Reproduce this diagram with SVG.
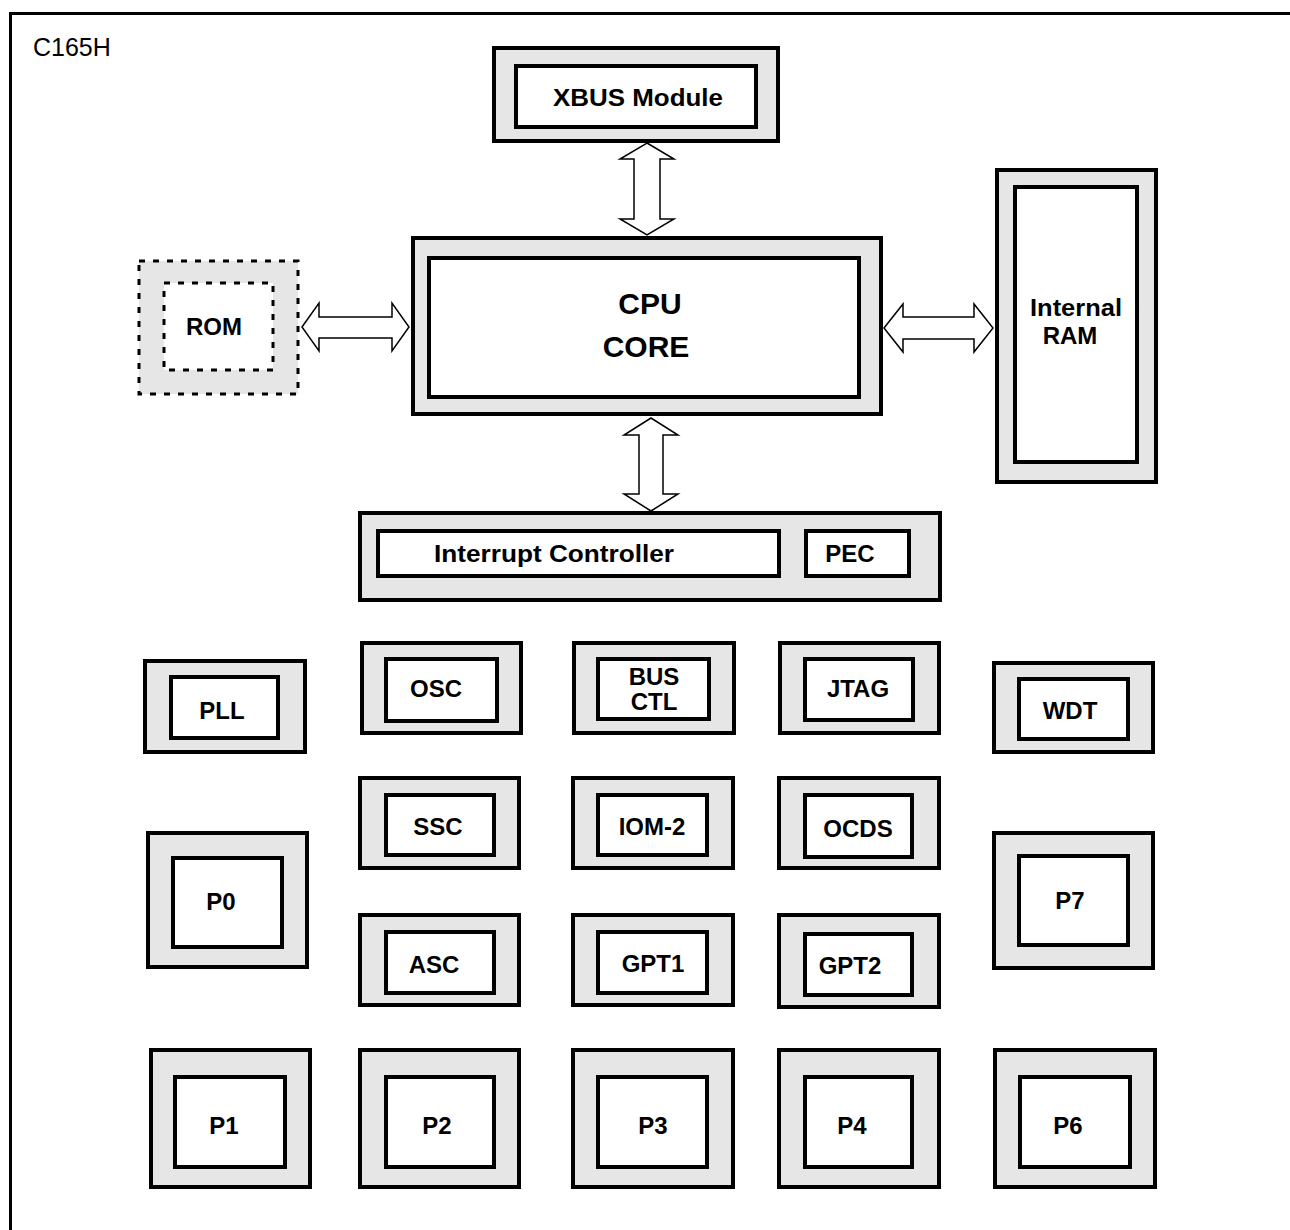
<svg xmlns="http://www.w3.org/2000/svg" width="1290" height="1230" viewBox="0 0 1290 1230">
<style>
.outer{fill:#e6e6e6;stroke:#000;stroke-width:4}
.inner{fill:#fff;stroke:#000;stroke-width:4}
.dout{fill:#e6e6e6;stroke:#000;stroke-width:3;stroke-dasharray:6 8}
.din{fill:#fff;stroke:#000;stroke-width:3;stroke-dasharray:6 8}
.lbl{font-family:"Liberation Sans",Arial,sans-serif;font-weight:bold;font-size:24px;text-anchor:middle;fill:#000}
.big{font-size:30px}
.title{font-family:"Liberation Sans",Arial,sans-serif;font-size:25px;fill:#000}
.arrow{fill:#fff;stroke:#000;stroke-width:1.5;stroke-linejoin:miter}
</style>
<rect x="0" y="0" width="1290" height="1230" fill="#fff"/>
<path d="M10.5,1230 V13.5 H1290" fill="none" stroke="#000" stroke-width="3"/>
<text class="title" x="33" y="56">C165H</text>

<g id="xbus"><rect class="outer" x="494" y="48" width="284" height="93"/><rect class="inner" x="516" y="66" width="240" height="61"/><text class="lbl" x="638" y="106" textLength="170" lengthAdjust="spacingAndGlyphs">XBUS Module</text></g>
<g id="cpu"><rect class="outer" x="413" y="238" width="468" height="176"/><rect class="inner" x="429" y="258" width="430" height="139"/><text class="lbl big" x="650" y="314">CPU</text><text class="lbl big" x="646" y="357">CORE</text></g>
<g id="rom"><rect class="dout" x="139" y="261" width="159" height="133"/><rect class="din" x="164" y="283" width="109" height="87"/><text class="lbl" x="214" y="335">ROM</text></g>
<g id="ram"><rect class="outer" x="997" y="170" width="159" height="312"/><rect class="inner" x="1015" y="187" width="122" height="275"/><text class="lbl" x="1076" y="316" textLength="92" lengthAdjust="spacingAndGlyphs">Internal</text><text class="lbl" x="1070" y="344">RAM</text></g>
<g id="intctl"><rect class="outer" x="360" y="513" width="580" height="87"/><rect class="inner" x="378" y="531" width="401" height="45"/><rect class="inner" x="806" y="531" width="103" height="45"/><text class="lbl" x="554" y="562" textLength="240" lengthAdjust="spacingAndGlyphs">Interrupt Controller</text><text class="lbl" x="850" y="562">PEC</text></g>

<g id="pll"><rect class="outer" x="145" y="661" width="160" height="91"/><rect class="inner" x="171" y="677" width="107" height="61"/><text class="lbl" x="222" y="719">PLL</text></g>
<g id="osc"><rect class="outer" x="362" y="643" width="159" height="90"/><rect class="inner" x="386" y="659" width="111" height="62"/><text class="lbl" x="436" y="697">OSC</text></g>
<g id="busctl"><rect class="outer" x="574" y="643" width="160" height="90"/><rect class="inner" x="598" y="659" width="111" height="60"/><text class="lbl" x="654" y="685">BUS</text><text class="lbl" x="654" y="710">CTL</text></g>
<g id="jtag"><rect class="outer" x="780" y="643" width="159" height="90"/><rect class="inner" x="805" y="659" width="108" height="61"/><text class="lbl" x="858" y="697">JTAG</text></g>
<g id="wdt"><rect class="outer" x="994" y="663" width="159" height="89"/><rect class="inner" x="1019" y="679" width="109" height="60"/><text class="lbl" x="1070" y="719">WDT</text></g>

<g id="ssc"><rect class="outer" x="360" y="778" width="159" height="90"/><rect class="inner" x="386" y="795" width="108" height="60"/><text class="lbl" x="438" y="835">SSC</text></g>
<g id="iom2"><rect class="outer" x="573" y="778" width="160" height="90"/><rect class="inner" x="598" y="795" width="109" height="60"/><text class="lbl" x="652" y="835">IOM-2</text></g>
<g id="ocds"><rect class="outer" x="779" y="778" width="160" height="90"/><rect class="inner" x="805" y="795" width="107" height="62"/><text class="lbl" x="858" y="837">OCDS</text></g>

<g id="p0"><rect class="outer" x="148" y="833" width="159" height="134"/><rect class="inner" x="173" y="858" width="109" height="89"/><text class="lbl" x="221" y="910">P0</text></g>
<g id="p7"><rect class="outer" x="994" y="833" width="159" height="135"/><rect class="inner" x="1019" y="856" width="109" height="89"/><text class="lbl" x="1070" y="909">P7</text></g>

<g id="asc"><rect class="outer" x="360" y="915" width="159" height="90"/><rect class="inner" x="386" y="932" width="108" height="61"/><text class="lbl" x="434" y="973">ASC</text></g>
<g id="gpt1"><rect class="outer" x="573" y="915" width="160" height="90"/><rect class="inner" x="598" y="932" width="109" height="61"/><text class="lbl" x="653" y="972">GPT1</text></g>
<g id="gpt2"><rect class="outer" x="779" y="915" width="160" height="92"/><rect class="inner" x="805" y="934" width="107" height="61"/><text class="lbl" x="850" y="974">GPT2</text></g>

<g id="p1"><rect class="outer" x="151" y="1050" width="159" height="137"/><rect class="inner" x="175" y="1077" width="110" height="90"/><text class="lbl" x="224" y="1134">P1</text></g>
<g id="p2"><rect class="outer" x="360" y="1050" width="159" height="137"/><rect class="inner" x="386" y="1077" width="108" height="90"/><text class="lbl" x="437" y="1134">P2</text></g>
<g id="p3"><rect class="outer" x="573" y="1050" width="160" height="137"/><rect class="inner" x="598" y="1077" width="109" height="90"/><text class="lbl" x="653" y="1134">P3</text></g>
<g id="p4"><rect class="outer" x="779" y="1050" width="160" height="137"/><rect class="inner" x="805" y="1077" width="107" height="90"/><text class="lbl" x="852" y="1134">P4</text></g>
<g id="p6"><rect class="outer" x="995" y="1050" width="160" height="137"/><rect class="inner" x="1020" y="1077" width="110" height="90"/><text class="lbl" x="1068" y="1134">P6</text></g>

<g id="connectors">
<polygon class="arrow" points="647,143 674,159 660,159 660,219 674,219 647,235 620,219 634,219 634,159 620,159"/>
<polygon class="arrow" points="651,418 678,435 663,435 663,494 678,494 651,511 624,494 639,494 639,435 624,435"/>
<polygon class="arrow" points="302,327 319,303 319,317 392,317 392,303 409,327 392,351 392,338 319,338 319,351"/>
<polygon class="arrow" points="884,328 903,304 903,317 974,317 974,304 993,328 974,352 974,339 903,339 903,352"/>
</g>
</svg>
